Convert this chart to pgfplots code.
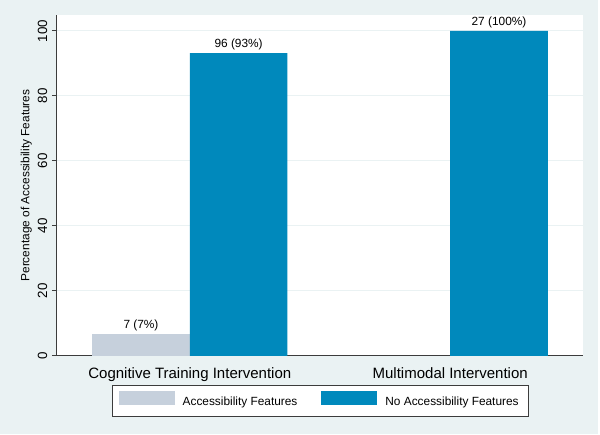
\documentclass[border=0pt]{standalone}
\usepackage{fontspec}
\setmainfont{Liberation Sans}
\usepackage{pgfplots}
\pgfplotsset{compat=1.18}
\definecolor{bgc}{RGB}{234,242,243}
\definecolor{greybar}{RGB}{198,208,220}
\definecolor{bluebar}{RGB}{0,137,188}
\definecolor{axc}{RGB}{60,60,60}
\begin{document}
\begin{tikzpicture}
\fill[white] (-42.75pt,-59.25pt) rectangle (407.25pt,267pt);
\fill[bgc] (-42.75pt,-58.5pt) rectangle (405.75pt,267pt);
\begin{axis}[
  at={(0pt,0pt)}, anchor=south west,
  scale only axis, width=394.5pt, height=255.75pt,
  xmin=-0.51, xmax=1.51, ymin=0, ymax=104.9,
  axis lines*=left,
  axis line style={-, draw=axc, line width=0.75pt},
  axis background/.style={fill=white},
  ybar, bar width=0.375, bar shift=0pt,
  xtick={0,1},
  xticklabels={Cognitive Training Intervention, Multimodal Intervention},
  xticklabel style={font=\fontsize{11.25}{13}\selectfont, yshift=-1.5pt},
  x tick style={draw=none},
  ytick={0,20,...,100},
  yticklabel style={rotate=90, anchor=south, font=\fontsize{10}{11}\selectfont},
  y tick style={draw=axc, line width=0.75pt},
  major tick length=3.75pt, tick align=outside,
  ymajorgrids, y grid style={bgc, line width=0.75pt},
  ylabel={Percentage of Accessibility Features},
  ylabel style={at={(axis description cs:-0.0475,0.5)}, anchor=south, inner sep=0pt, font=\fontsize{8.9}{10}\selectfont},
  /pgf/number format/assume math mode=true,
  nodes near coords, point meta=explicit symbolic,
  every node near coord/.append style={font=\fontsize{8.9}{10}\selectfont, anchor=south, inner sep=1.8pt, text=black},
  legend columns=2,
  legend cell align=left,
  legend style={at={(axis description cs:0.5,0)}, anchor=north, yshift=-21.75pt,
    draw=axc, line width=0.6pt, fill=white, inner xsep=5pt, inner ysep=4.5pt,
    font=\fontsize{8.9}{10}\selectfont,
    /tikz/every odd column/.append style={column sep=4pt},
    /tikz/every even column/.append style={column sep=16pt}},
  clip=false,
]
\addplot[fill=greybar, draw=none,
  legend image code/.code={\fill[greybar] (0pt,-2.05pt) rectangle (42pt,8.45pt);}]
  coordinates {(-0.1875,6.8) [7 (7\%)]};
\addplot[fill=bluebar, draw=none,
  legend image code/.code={\fill[bluebar] (0pt,-2.05pt) rectangle (42pt,8.45pt);}]
  coordinates {(0.1875,93.2) [96 (93\%)] (1.1875,100) [27 (100\%)]};
\legend{Accessibility Features, No Accessibility Features}
\end{axis}
\end{tikzpicture}
\end{document}
